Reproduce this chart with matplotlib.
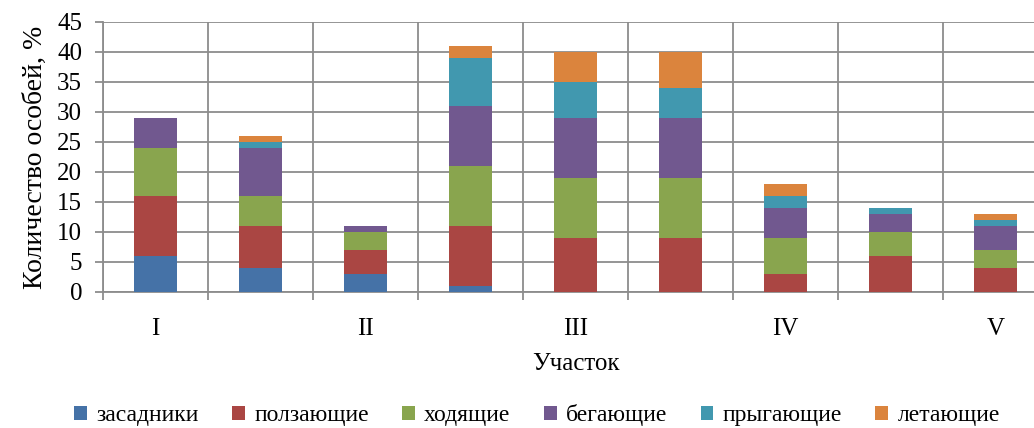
import matplotlib
matplotlib.use("Agg")
import matplotlib.pyplot as plt
import numpy as np

plt.rcParams['font.family'] = ['Liberation Serif', 'DejaVu Serif']

# one stack per plot, bottom to top
zasadniki = [6, 4, 3, 1, 0, 0, 0, 0, 0]
polzayushchie = [10, 7, 4, 10, 9, 9, 3, 6, 4]
khodyashchie = [8, 5, 3, 10, 10, 10, 6, 4, 3]
begayushchie = [5, 8, 1, 10, 10, 10, 5, 3, 4]
prygayushchie = [0, 1, 0, 8, 6, 5, 2, 1, 1]
letayushchie = [0, 1, 0, 2, 5, 6, 2, 0, 1]

series = [zasadniki, polzayushchie, khodyashchie, begayushchie, prygayushchie, letayushchie]
names = ["засадники", "ползающие", "ходящие", "бегающие", "прыгающие", "летающие"]
colors = ["#4572A7", "#AA4643", "#89A54E", "#71588F", "#4198AF", "#DB843D"]

site_labels = ["I", "II", "III", "IV", "V"]
site_pos = [0, 2, 4, 6, 8]

W, H = 1034, 428
fig = plt.figure(figsize=(W / 100, H / 100), dpi=100)
ax = fig.add_axes([103 / W, 136 / H, 945 / W, 270 / H])

x = np.arange(len(zasadniki))
bottom = np.zeros(len(x))
for vals, name, col in zip(series, names, colors):
    ax.bar(x, vals, width=0.41, bottom=bottom, color=col, label=name, zorder=3)
    bottom += np.array(vals)

ax.set_xlim(-0.5, 8.5)
ax.set_ylim(0, 45)
ax.set_yticks(range(0, 46, 5))

grid_col = "#8c8c8c"
ax.set_xticks(np.arange(-0.5, 8.6, 1))
ax.set_xticklabels([])
ax.set_xticks(site_pos, minor=True)
ax.set_xticklabels(site_labels, minor=True)
ax.tick_params(axis='x', which='major', length=6, width=1.3, color=grid_col, direction='out')
ax.tick_params(axis='x', which='minor', length=0, pad=19, labelsize=18)
ax.tick_params(axis='y', length=6, width=1.3, color=grid_col, labelsize=18, pad=9)

ax.grid(True, which='major', color=grid_col, linewidth=1.3, zorder=0)
ax.set_axisbelow(True)
for s in ['top', 'right']:
    ax.spines[s].set_visible(False)
for s in ['left', 'bottom']:
    ax.spines[s].set_color(grid_col)
    ax.spines[s].set_linewidth(1.3)

ax.set_xlabel("Участок", fontsize=18, labelpad=9)
ax.set_ylabel("Количество особей, %", fontsize=20, labelpad=7)

fig.legend(loc='center', bbox_to_anchor=(537 / W, 1 - 415 / H), ncol=6, frameon=False,
           fontsize=17, handlelength=0.55, handleheight=0.55, handletextpad=0.4,
           columnspacing=1.4)

fig.savefig("out.png", dpi=100)
